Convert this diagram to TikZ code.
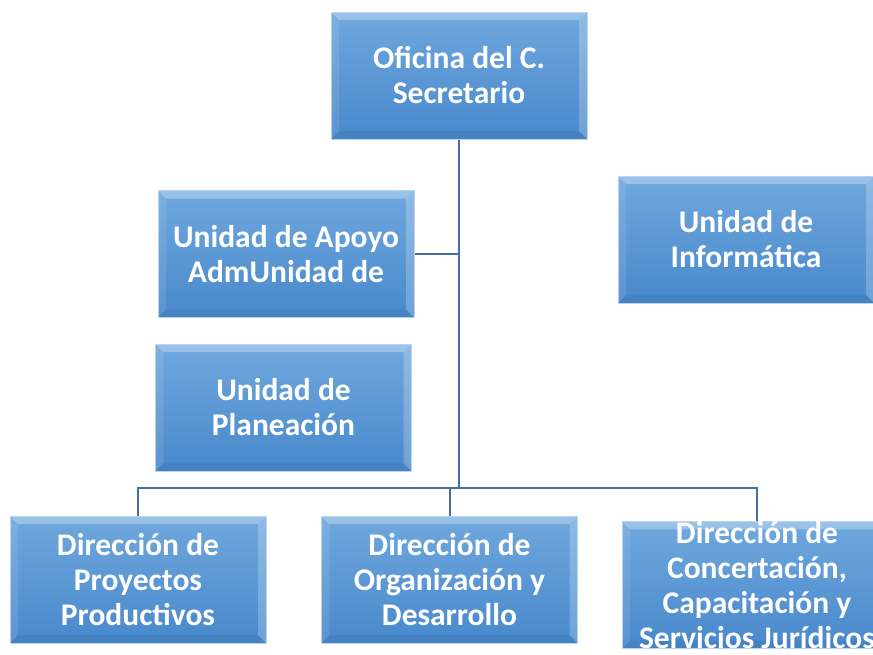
\documentclass[tikz,border=0pt]{standalone}
\usepackage{fontspec}
\setmainfont{Carlito}
\usetikzlibrary{positioning,calc}

\definecolor{boxtop}{HTML}{70A8DE}
\definecolor{boxbottom}{HTML}{4888CB}
\definecolor{boxedge}{HTML}{B9D5EF}
\definecolor{linkcolor}{HTML}{41719C}

\tikzset{
	orgpicture/.style = {
		x = 1pt,
		y = -1pt,
		link/.style = {
			draw = linkcolor,
			line width = 2pt,
		}
	},
	unitbox/.style = {
		rectangle,
		minimum width = 256pt,
		minimum height = 127pt,
		text width = 250pt,
		align = flush center,
		inner sep = 0pt,
		top color = boxtop,
		bottom color = boxbottom,
		draw = boxedge,
		line width = 1pt,
		text = white,
		font = \fontsize{31.5}{35}\selectfont\bfseries,
		path picture = {
			\coordinate (nw) at (path picture bounding box.north west);
			\coordinate (ne) at (path picture bounding box.north east);
			\coordinate (sw) at (path picture bounding box.south west);
			\coordinate (se) at (path picture bounding box.south east);
			\fill[white, opacity = 0.30] (nw) -- (ne) -- ($(ne)+(-8,8)$) -- ($(nw)+(8,8)$) -- cycle;
			\fill[white, opacity = 0.10] (nw) -- (sw) -- ($(sw)+(8,-8)$) -- ($(nw)+(8,8)$) -- cycle;
			\fill[white, opacity = 0.22] (ne) -- (se) -- ($(se)+(-8,-8)$) -- ($(ne)+(-8,8)$) -- cycle;
			\fill[black, opacity = 0.05] (sw) -- (se) -- ($(se)+(-8,-8)$) -- ($(sw)+(8,-8)$) -- cycle;
		}
	}
}

\begin{document}
\begin{tikzpicture}[orgpicture]
	\useasboundingbox (0,0) rectangle (873,654);

	% boxes
	\node[unitbox] (ofc) at (459,75.5) {Oficina del C.\\Secretario};
	\node[unitbox] (apoyo) at (286,254) {Unidad de Apoyo\\AdmUnidad de};
	\node[unitbox] (info) at (746,239.5) {Unidad de\\Informática};
	\node[unitbox] (plan) at (283.5,407.5) {Unidad de\\Planeación};
	\node[unitbox] (dpp) at (138,579.5) {Dirección de\\Proyectos\\Productivos};
	\node[unitbox] (dod) at (449.5,579.5) {Dirección de\\Organización y\\Desarrollo};
	\node[unitbox, text width = 270pt] (dcc) at (757,585) {Dirección de\\Concertación,\\Capacitación y\\Servicios Jurídicos};

	% connectors
	\coordinate (bar) at (459,488);
	\begin{scope}[every path/.style = link]
		\path (ofc.south) -- (bar);
		\path (apoyo.east) -- (apoyo.east -| bar);
		\path (dpp.north) -- (dpp.north |- bar) -- (dcc.north |- bar) -- (dcc.north);
		\path (dod.north) -- (dod.north |- bar);
	\end{scope}
\end{tikzpicture}
\end{document}
